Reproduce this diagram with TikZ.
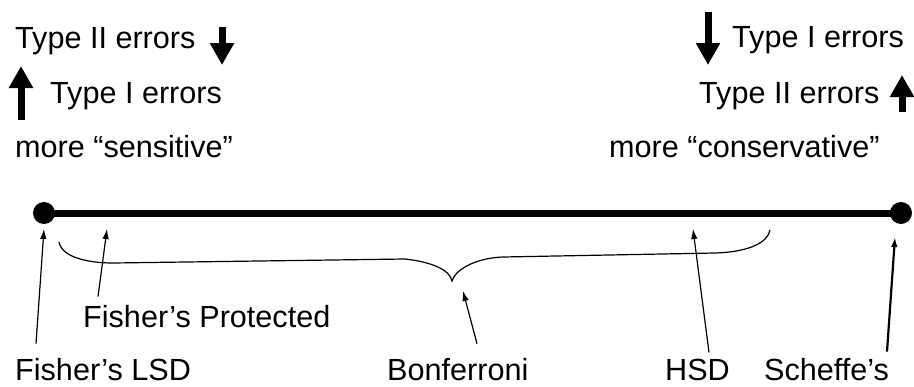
\documentclass[tikz,border=0pt]{standalone}
\usepackage{fontspec}
\setmainfont{Liberation Sans}
\usetikzlibrary{arrows.meta,positioning}

\begin{document}
\begin{tikzpicture}[
    x=1pt, y=-1pt,
    txt/.style={anchor=base west, inner sep=0pt, font=\fontsize{30.6}{36}\selectfont},
    dot/.style={circle, fill=black, minimum size=22pt, inner sep=0pt},
    pointer/.style={line width=1.2pt, -{Latex[length=10pt,width=6.5pt]}},
    bigarrow/.style={line width=7pt, -{Triangle[length=22pt,width=23pt]}}
]
\useasboundingbox (0,0) rectangle (914,386);

% left side: sensitive
\node[txt] (lt2) at (15,48) {Type II errors};
\node[txt] (lt1) at (50,103) {Type I errors};
\node[txt] (sens) at (15,157) {more “sensitive”};
\coordinate (ldtop) at (222,27);
\coordinate (ldbot) at (222,65);
\coordinate (lubot) at (21,120);
\coordinate (lutop) at (21,66);
\draw[bigarrow] (ldtop) -- (ldbot);
\draw[bigarrow] (lubot) -- (lutop);

% right side: conservative
\node[txt] (rt1) at (732,47) {Type I errors};
\node[txt] (rt2) at (699,103) {Type II errors};
\node[txt] (cons) at (609,157) {more “conservative”};
\coordinate (rdtop) at (708,12);
\coordinate (rdbot) at (708,65);
\coordinate (rubot) at (902,112);
\coordinate (rutop) at (902,75);
\draw[bigarrow] (rdtop) -- (rdbot);
\draw[bigarrow] (rubot) -- (rutop);

% the scale
\node[dot] (ldot) at (44,213) {};
\node[dot] (rdot) at (901,213) {};
\draw[line width=7pt] (ldot.center) -- (rdot.center);

% brace under the range of Bonferroni
\draw[line width=1.2pt] (59,242) .. controls (62,258) and (90,263) .. (113,263)
    -- (405,259) .. controls (432,262) and (450,270) .. (452,281)
    .. controls (455,270) and (475,258) .. (503,257)
    -- (715,253) .. controls (750,252) and (768,242) .. (770,230);

% methods
\node[txt] (lsd) at (15,380) {Fisher’s LSD};
\node[txt] (prot) at (83,327) {Fisher’s Protected};
\node[txt] (bonf) at (387,380) {Bonferroni};
\node[txt] (hsd) at (665,380) {HSD};
\node[txt] (sch) at (764,380) {Scheffe’s};

\coordinate (lsdtip) at (44,229);
\coordinate (prottip) at (107,229);
\coordinate (bonftip) at (463,291);
\coordinate (hsdtip) at (693,229);
\coordinate (schtip) at (895,237);

\draw[pointer] ([xshift=21pt,yshift=14pt]lsd.north west) -- (lsdtip);
\draw[pointer] ([xshift=15pt,yshift=8pt]prot.north west) -- (prottip);
\draw[pointer] ([xshift=90pt,yshift=14pt]bonf.north west) -- (bonftip);
\draw[pointer] ([xshift=44pt,yshift=6pt]hsd.north west) -- (hsdtip);
\draw[pointer, line width=2.2pt] ([xshift=123pt,yshift=6pt]sch.north west) -- (schtip);
\end{tikzpicture}
\end{document}
